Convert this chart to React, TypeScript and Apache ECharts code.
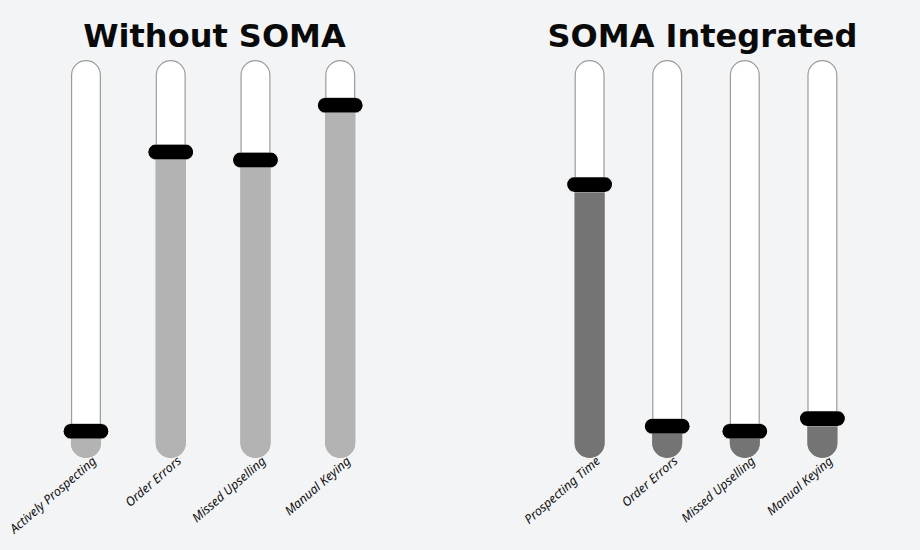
import React, { useEffect, useRef } from "react";
import * as echarts from "echarts";

const titles = ["Without SOMA", "SOMA Integrated"];
const leftCategories = ["Actively Prospecting", "Order Errors", "Missed Upselling", "Manual Keying"];
const leftValues = [6.7, 76.9, 74.9, 88.6];
const rightCategories = ["Prospecting Time", "Order Errors", "Missed Upselling", "Manual Keying"];
const rightValues = [68.7, 8.0, 6.7, 9.9];
const scaleMax = 100;

const PILL = "path://M7.5,0 H38.5 A7.5,7.5 0 0 1 38.5,15 H7.5 A7.5,7.5 0 0 1 7.5,0 Z";

function groupSeries(idx: number, values: number[], fillColor: string) {
  return [
    {
      type: "bar",
      xAxisIndex: idx,
      yAxisIndex: idx,
      data: values.map(() => scaleMax),
      barWidth: 30,
      barGap: "-100%",
      itemStyle: { color: "#ffffff", borderColor: "#9c9c9c", borderWidth: 1.2, borderRadius: 15 },
      silent: true,
      z: 1,
    },
    {
      type: "bar",
      xAxisIndex: idx,
      yAxisIndex: idx,
      data: values,
      barWidth: 30,
      barGap: "-100%",
      itemStyle: { color: fillColor, borderRadius: [0, 0, 15, 15] },
      silent: true,
      z: 2,
    },
    {
      type: "scatter",
      xAxisIndex: idx,
      yAxisIndex: idx,
      data: values,
      symbol: PILL,
      symbolSize: [46, 15],
      itemStyle: { color: "#000000", opacity: 1, borderColor: "#ffffff", borderWidth: 0.6 },
      silent: true,
      z: 5,
    },
  ];
}

function xAxis(idx: number, cats: string[]) {
  return {
    type: "category",
    gridIndex: idx,
    data: cats,
    axisLine: { show: false },
    axisTick: { show: false },
    splitLine: { show: false },
    axisLabel: {
      interval: 0,
      rotate: 41,
      margin: 8,
      padding: [24, -11, 0, 0],
      fontSize: 12.5,
      fontStyle: "italic",
      fontFamily: "'Noto Sans', sans-serif",
      color: "#111111",
    },
  };
}

function yAxis(idx: number) {
  return {
    type: "value",
    gridIndex: idx,
    min: 0,
    max: scaleMax,
    show: false,
  };
}

export default function App() {
  const ref = useRef<HTMLDivElement>(null);
  useEffect(() => {
    if (!ref.current) return;
    const chart = echarts.init(ref.current, undefined, { renderer: "svg" });
    chart.setOption({
      animation: false,
      backgroundColor: "#f3f4f6",
      grid: [
        { left: 43.6, top: 60, width: 339, height: 398, containLabel: false, outerBoundsMode: "none" },
        { left: 550.8, top: 60, width: 310.4, height: 398, containLabel: false, outerBoundsMode: "none" },
      ],
      xAxis: [xAxis(0, leftCategories), xAxis(1, rightCategories)],
      yAxis: [yAxis(0), yAxis(1)],
      series: [...groupSeries(0, leftValues, "#b3b3b3"), ...groupSeries(1, rightValues, "#747474")],
      graphic: [
        {
          type: "text",
          x: 214.5,
          y: 36,
          style: {
            text: titles[0],
            textAlign: "center",
            textVerticalAlign: "middle",
            font: "bold 32px 'DejaVu Sans', sans-serif",
            fill: "#0a0a0a",
          },
        },
        {
          type: "text",
          x: 702.5,
          y: 36,
          style: {
            text: titles[1],
            textAlign: "center",
            textVerticalAlign: "middle",
            font: "bold 32px 'DejaVu Sans', sans-serif",
            fill: "#0a0a0a",
          },
        },
      ],
    });
    return () => chart.dispose();
  }, []);
  return (
    <div
      ref={ref}
      style={{ position: "fixed", left: 0, top: 0, width: 920, height: 550 }}
    />
  );
}
